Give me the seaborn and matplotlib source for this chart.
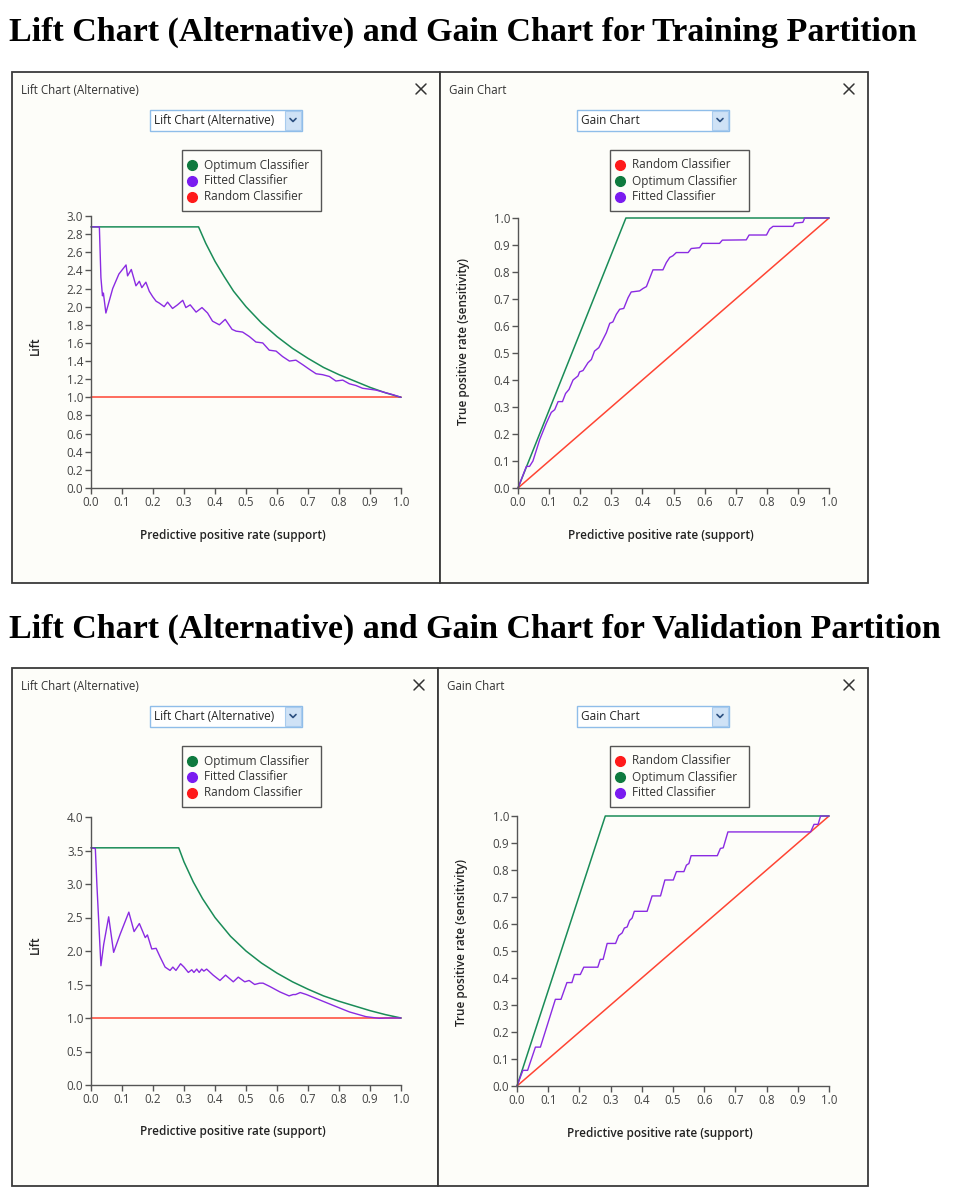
import seaborn as sns
import matplotlib.pyplot as plt
from matplotlib.patches import Rectangle
from matplotlib.lines import Line2D

# ---- training partition: lift chart (alternative) ----
tr_opt_lift_x = [0.0, 0.347, 0.37, 0.40, 0.43, 0.46, 0.50, 0.55, 0.60, 0.65, 0.70, 0.75, 0.80, 0.85, 0.90, 0.95, 1.0]
tr_opt_lift_y = [2.88, 2.88, 2.70, 2.50, 2.33, 2.17, 2.00, 1.82, 1.67, 1.54, 1.43, 1.33, 1.25, 1.18, 1.11, 1.05, 1.00]
tr_fit_lift_x = [0.0, 0.027, 0.032, 0.037, 0.040, 0.048, 0.07, 0.09, 0.113, 0.118, 0.13, 0.145, 0.156, 0.164,
                 0.177, 0.188, 0.199, 0.21, 0.22, 0.236, 0.247, 0.263, 0.279, 0.296, 0.306, 0.32, 0.339, 0.358,
                 0.376, 0.392, 0.414, 0.433, 0.455, 0.468, 0.489, 0.511, 0.532, 0.554, 0.575, 0.597, 0.618,
                 0.640, 0.661, 0.683, 0.704, 0.726, 0.747, 0.769, 0.790, 0.812, 0.833, 0.855, 0.876, 0.898,
                 0.919, 0.941, 0.973, 1.0]
tr_fit_lift_y = [2.88, 2.88, 2.32, 2.12, 2.15, 1.93, 2.20, 2.36, 2.46, 2.34, 2.41, 2.23, 2.28, 2.21,
                 2.27, 2.17, 2.11, 2.06, 2.04, 2.00, 2.05, 1.98, 2.02, 2.07, 1.99, 2.02, 1.94, 1.99,
                 1.93, 1.84, 1.80, 1.86, 1.75, 1.73, 1.72, 1.67, 1.61, 1.60, 1.52, 1.51, 1.45,
                 1.40, 1.41, 1.36, 1.31, 1.26, 1.25, 1.23, 1.18, 1.19, 1.15, 1.13, 1.10, 1.09,
                 1.08, 1.06, 1.03, 1.00]

# ---- training partition: gain chart ----
tr_opt_gain_x = [0.0, 0.347, 1.0]
tr_opt_gain_y = [0.0, 1.0, 1.0]
tr_fit_gain_x = [0.0, 0.027, 0.037, 0.048, 0.07, 0.091, 0.107, 0.118, 0.129, 0.143, 0.153, 0.164, 0.177,
                 0.193, 0.198, 0.209, 0.225, 0.236, 0.246, 0.26, 0.284, 0.295, 0.305, 0.316, 0.327, 0.34,
                 0.354, 0.364, 0.391, 0.402, 0.413, 0.434, 0.466, 0.477, 0.488, 0.498, 0.509, 0.547,
                 0.557, 0.584, 0.593, 0.648, 0.657, 0.734, 0.743, 0.799, 0.809, 0.82, 0.884, 0.89,
                 0.916, 0.922, 1.0]
tr_fit_gain_y = [0.0, 0.08, 0.08, 0.10, 0.18, 0.24, 0.28, 0.29, 0.32, 0.32, 0.35, 0.365, 0.40,
                 0.415, 0.43, 0.435, 0.464, 0.476, 0.507, 0.52, 0.575, 0.61, 0.615, 0.643, 0.662, 0.665,
                 0.705, 0.726, 0.73, 0.739, 0.746, 0.808, 0.808, 0.835, 0.854, 0.86, 0.872, 0.872,
                 0.887, 0.89, 0.906, 0.906, 0.918, 0.919, 0.937, 0.937, 0.959, 0.969, 0.969, 0.981,
                 0.984, 1.0, 1.0]

# ---- validation partition: lift chart (alternative) ----
va_opt_lift_x = [0.0, 0.283, 0.30, 0.33, 0.36, 0.40, 0.45, 0.50, 0.55, 0.60, 0.65, 0.70, 0.75, 0.80, 0.85, 0.90, 0.95, 1.0]
va_opt_lift_y = [3.54, 3.54, 3.33, 3.03, 2.78, 2.50, 2.22, 2.00, 1.82, 1.67, 1.54, 1.43, 1.33, 1.25, 1.18, 1.11, 1.05, 1.00]
va_fit_lift_x = [0.0, 0.014, 0.019, 0.032, 0.041, 0.057, 0.073, 0.094, 0.122, 0.139, 0.156, 0.175, 0.182,
                 0.196, 0.21, 0.223, 0.239, 0.255, 0.264, 0.274, 0.289, 0.30, 0.314, 0.325, 0.332, 0.341,
                 0.349, 0.357, 0.364, 0.373, 0.394, 0.416, 0.434, 0.459, 0.475, 0.496, 0.51, 0.528, 0.544,
                 0.555, 0.577, 0.609, 0.639, 0.652, 0.66, 0.675, 0.695, 0.727, 0.78, 0.834, 0.887, 0.93,
                 0.952, 0.973, 1.0]
va_fit_lift_y = [3.54, 3.53, 2.99, 1.78, 2.10, 2.51, 1.98, 2.25, 2.58, 2.29, 2.41, 2.20, 2.24,
                 2.03, 2.04, 1.91, 1.76, 1.71, 1.76, 1.71, 1.81, 1.76, 1.68, 1.72, 1.68, 1.73,
                 1.68, 1.73, 1.70, 1.73, 1.64, 1.56, 1.64, 1.54, 1.61, 1.54, 1.56, 1.50, 1.52,
                 1.52, 1.47, 1.39, 1.33, 1.35, 1.35, 1.38, 1.35, 1.29, 1.19, 1.09, 1.02, 0.995,
                 1.0, 1.0, 1.0]

# ---- validation partition: gain chart ----
va_opt_gain_x = [0.0, 0.283, 1.0]
va_opt_gain_y = [0.0, 1.0, 1.0]
va_fit_gain_x = [0.0, 0.019, 0.034, 0.059, 0.075, 0.123, 0.141, 0.16, 0.176, 0.184, 0.203, 0.214, 0.259,
                 0.267, 0.276, 0.289, 0.316, 0.326, 0.337, 0.344, 0.353, 0.361, 0.369, 0.376, 0.417,
                 0.433, 0.46, 0.474, 0.501, 0.511, 0.535, 0.543, 0.551, 0.558, 0.642, 0.652, 0.661,
                 0.676, 0.941, 0.952, 0.965, 0.973, 1.0]
va_fit_gain_y = [0.0, 0.058, 0.058, 0.144, 0.144, 0.321, 0.321, 0.383, 0.383, 0.413, 0.413, 0.44, 0.44,
                 0.469, 0.469, 0.528, 0.528, 0.557, 0.567, 0.585, 0.589, 0.613, 0.622, 0.647, 0.647,
                 0.704, 0.704, 0.763, 0.763, 0.794, 0.794, 0.818, 0.824, 0.853, 0.853, 0.88, 0.882,
                 0.941, 0.941, 0.969, 0.969, 1.0, 1.0]

rand_x = [0.0, 1.0]
rand_lift = [1.0, 1.0]
rand_gain = [0.0, 1.0]

GREEN = "#1a8c58"
PURPLE = "#8a2be2"
RED = "#ff4433"
DOT = {"Optimum Classifier": "#0e7a3e", "Fitted Classifier": "#7a1cf0", "Random Classifier": "#ff1a1a"}
UI = ["Open Sans", "DejaVu Sans"]

sns.set_style("ticks")
plt.rcParams["font.family"] = UI

W, H = 960, 1200
fig = plt.figure(figsize=(W / 100, H / 100), dpi=100)
fig.patch.set_facecolor("white")


def fx(x):
    return x / W


def fy(y):
    return 1 - y / H


def frect(x0, y0, x1, y1, **kw):
    fig.add_artist(Rectangle((fx(x0), fy(y1)), (x1 - x0) / W, (y1 - y0) / H,
                             transform=fig.transFigure, **kw))


def fline(xs, ys, **kw):
    fig.add_artist(Line2D([fx(v) for v in xs], [fy(v) for v in ys], transform=fig.transFigure, **kw))


def panel(x0, y0, x1, y1, name, dd_x0, legend_x0, legend_items, ax_box, ylabel, ylabel_pos, xlabel_x):
    # window frame
    frect(x0, y0, x1, y1, facecolor="#fdfdf9", edgecolor="#3a3a3a", linewidth=1.3, zorder=0)
    fig.text(fx(x0 + 9), fy(y0 + 18), name, fontsize=8.3, color="#333333", va="center")
    # close cross
    cx, cy = x1 - 19, y0 + 17
    fline([cx - 5, cx + 5], [cy - 5, cy + 5], color="#333333", linewidth=1.1)
    fline([cx - 5, cx + 5], [cy + 5, cy - 5], color="#333333", linewidth=1.1)
    # dropdown
    frect(dd_x0, y0 + 38, dd_x0 + 152, y0 + 59, facecolor="white", edgecolor="#8fbde9", linewidth=1, zorder=1)
    frect(dd_x0 + 135, y0 + 39, dd_x0 + 151, y0 + 58, facecolor="#cfe2f6", edgecolor="#a8cbee", linewidth=0.8, zorder=2)
    cx, cy = dd_x0 + 143, y0 + 48
    fline([cx - 3, cx, cx + 3], [cy - 1.5, cy + 1.5, cy - 1.5], color="#2b4f80", linewidth=1.2, zorder=3)
    fig.text(fx(dd_x0 + 4), fy(y0 + 49), name, fontsize=8.5, color="#222222", va="center")
    # legend
    ly = y0 + 78
    frect(legend_x0, ly, legend_x0 + 139, ly + 61, facecolor="#fdfdf9", edgecolor="#555555", linewidth=1, zorder=1)
    for i, lab in enumerate(legend_items):
        yy = ly + 15 + 16 * i
        fig.add_artist(Line2D([fx(legend_x0 + 10)], [fy(yy)], transform=fig.transFigure, marker="o",
                              markersize=7, color=DOT[lab], linestyle="", zorder=3))
        fig.text(fx(legend_x0 + 22), fy(yy), lab, fontsize=8.5, color="#333333", va="center")
    # plot area
    ax_x0, ax_y0, ax_x1, ax_y1 = ax_box
    ax = fig.add_axes([fx(ax_x0), fy(ax_y1), (ax_x1 - ax_x0) / W, (ax_y1 - ax_y0) / H])
    ax.set_facecolor("none")
    sns.despine(ax=ax)
    for s in ("left", "bottom"):
        ax.spines[s].set_color("#555555")
        ax.spines[s].set_linewidth(1)
    ax.tick_params(direction="out", length=4, width=1, color="#555555", labelsize=8.4,
                   labelcolor="#444444", pad=1.5)
    ax.set_xlim(0, 1)
    ax.set_xticks([i / 10 for i in range(11)])
    ax.set_xticklabels([f"{i / 10:.1f}" for i in range(11)])
    fig.text(fx(xlabel_x), fy(ax_y1 + 47), "Predictive positive rate (support)",
             fontsize=8.5, fontweight="semibold", color="#222222", ha="center", va="center")
    fig.text(fx(ylabel_pos[0]), fy(ylabel_pos[1]), ylabel, fontsize=8.5, fontweight="semibold",
             color="#222222", ha="center", va="center", rotation=90)
    return ax


def draw(ax, x, y, color, lw=1.1):
    sns.lineplot(x=x, y=y, ax=ax, color=color, linewidth=lw, estimator=None, sort=False, clip_on=False)


# headings
fig.text(fx(9), fy(32), "Lift Chart (Alternative) and Gain Chart for Training Partition",
         fontsize=24.5, fontweight="bold", family="Liberation Serif", color="black", va="center")
fig.text(fx(9), fy(629), "Lift Chart (Alternative) and Gain Chart for Validation Partition",
         fontsize=24.5, fontweight="bold", family="Liberation Serif", color="black", va="center")

LIFT_LEG = ["Optimum Classifier", "Fitted Classifier", "Random Classifier"]
GAIN_LEG = ["Random Classifier", "Optimum Classifier", "Fitted Classifier"]

# training lift
ax = panel(12, 72, 440, 583, "Lift Chart (Alternative)", 150, 182, LIFT_LEG, (91, 216, 401, 488),
           "Lift", (35, 346), 233)
ax.set_ylim(0, 3)
ax.set_yticks([i / 5 for i in range(16)])
ax.set_yticklabels([f"{i / 5:.1f}" for i in range(16)])
draw(ax, rand_x, rand_lift, RED)
draw(ax, tr_opt_lift_x, tr_opt_lift_y, GREEN)
draw(ax, tr_fit_lift_x, tr_fit_lift_y, PURPLE, 1.0)

# training gain
ax = panel(440, 72, 868, 583, "Gain Chart", 577, 610, GAIN_LEG, (518, 218, 829, 488),
           "True positive rate (sensitivity)", (463, 342), 661)
ax.set_ylim(0, 1)
ax.set_yticks([i / 10 for i in range(11)])
ax.set_yticklabels([f"{i / 10:.1f}" for i in range(11)])
draw(ax, rand_x, rand_gain, RED)
draw(ax, tr_opt_gain_x, tr_opt_gain_y, GREEN)
draw(ax, tr_fit_gain_x, tr_fit_gain_y, PURPLE, 1.0)

# validation lift
ax = panel(12, 668, 438, 1186, "Lift Chart (Alternative)", 150, 182, LIFT_LEG, (91, 817, 401, 1085),
           "Lift", (35, 945), 233)
ax.set_ylim(0, 4)
ax.set_yticks([i / 2 for i in range(9)])
ax.set_yticklabels([f"{i / 2:.1f}" for i in range(9)])
draw(ax, rand_x, rand_lift, RED)
draw(ax, va_opt_lift_x, va_opt_lift_y, GREEN)
draw(ax, va_fit_lift_x, va_fit_lift_y, PURPLE, 1.0)

# validation gain
ax = panel(438, 668, 868, 1186, "Gain Chart", 577, 610, GAIN_LEG, (517, 816, 829, 1086),
           "True positive rate (sensitivity)", (462, 942), 660)
ax.set_ylim(0, 1)
ax.set_yticks([i / 10 for i in range(11)])
ax.set_yticklabels([f"{i / 10:.1f}" for i in range(11)])
draw(ax, rand_x, rand_gain, RED)
draw(ax, va_opt_gain_x, va_opt_gain_y, GREEN)
draw(ax, va_fit_gain_x, va_fit_gain_y, PURPLE, 1.0)

fig.savefig("out.png", dpi=100)
